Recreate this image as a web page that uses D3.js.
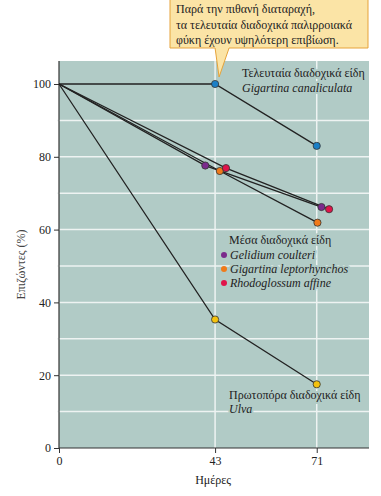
<!DOCTYPE html>
<html><head><meta charset="utf-8">
<script src="https://cdn.jsdelivr.net/npm/d3@7"></script>
<style>body{margin:0;background:#fff}svg{display:block}</style>
</head><body><svg id="c" width="381" height="496" font-family="Liberation Serif"></svg>
<script>
const xTicks = [0, 43, 71];
const yTicks = [0, 20, 40, 60, 80, 100];
const yGrid = [10, 20, 30, 40, 50, 60, 70, 80, 90];
const seriesNames = ["Gigartina canaliculata", "Gelidium coulteri", "Gigartina leptorhynchos", "Rhodoglossum affine", "Ulva"];
const seriesColors = ["#1a7fc6", "#7b2a8c", "#f07a1a", "#e0144a", "#f4c20d"];
const seriesDays = [[0, 43, 71], [0, 40.3, 72.3], [0, 44.3, 71.2], [0, 46, 74.4], [0, 43, 71]];
const seriesValues = [[100, 100, 83], [100, 77.6, 66.2], [100, 76.1, 61.9], [100, 76.9, 65.6], [100, 35.3, 17.5]];
const calloutLines = ["Παρά την πιθανή διαταραχή,", "τα τελευταία διαδοχικά παλιρροιακά", "φύκη έχουν υψηλότερη επιβίωση."];

const FONT = "Liberation Serif";
const svg = d3.select("#c");
const L = 59, R = 369, T = 61, B = 448;
const x = d3.scaleLinear().domain([0, 85.4]).range([L, R]);
const y = d3.scaleLinear().domain([0, 100]).range([B, B - 364]);
const bg = "#b1cbc6";

svg.append("rect").attr("x", L).attr("y", T).attr("width", R - L).attr("height", B - T).attr("fill", bg);
svg.append("g").selectAll("line").data(yGrid).join("line")
  .attr("x1", L - 2).attr("x2", R).attr("y1", d => y(d)).attr("y2", d => y(d))
  .attr("stroke", "#eef3f2").attr("stroke-width", 1.5);
svg.append("g").selectAll("line").data(xTicks.slice(1)).join("line")
  .attr("x1", d => x(d)).attr("x2", d => x(d)).attr("y1", T).attr("y2", B)
  .attr("stroke", "#eef3f2").attr("stroke-width", 1.5);

const ya = svg.append("g").attr("transform", `translate(${L},0)`)
  .call(d3.axisLeft(y).tickValues(yTicks).tickSize(5).tickPadding(3));
const xa = svg.append("g").attr("transform", `translate(0,${B})`)
  .call(d3.axisBottom(x).tickValues(xTicks).tickSize(5).tickPadding(3));
[ya, xa].forEach(a => {
  a.attr("font-family", FONT).attr("font-size", 12);
  a.select(".domain").attr("stroke", "#333").attr("stroke-width", 1.2);
  a.selectAll(".tick line").attr("stroke", "#333");
  a.selectAll("text").attr("fill", "#222").attr("font-family", FONT);
});
xa.select(".domain").attr("d", `M${L},0H${R}`);
ya.select(".domain").attr("d", `M0,${B}V${T}`);

function txt(xp, yp) {
  return svg.append("text").attr("x", xp).attr("y", yp).attr("font-size", 12)
    .attr("font-family", FONT).attr("fill", "#222");
}
svg.append("text").attr("transform", `translate(25,${(T + B) / 2 + 10}) rotate(-90)`)
  .attr("text-anchor", "middle").attr("font-size", 12).attr("font-family", FONT).attr("fill", "#444").text("Επιζώντες (%)");
txt(x(43) - 2, 484).attr("text-anchor", "middle").text("Ημέρες");

function label(xp, yp, parts) {
  const t = txt(xp, yp)
    .attr("stroke", bg).attr("stroke-width", 4).attr("paint-order", "stroke").attr("stroke-linejoin", "round");
  parts.forEach(p => t.append("tspan").attr("font-style", p.i ? "italic" : null).text(p.t));
  return t;
}
label(242, 77, [{t: "Τελευταία διαδοχικά είδη"}]);
label(242, 92, [{t: seriesNames[0], i: 1}]);
label(229, 244, [{t: "Μέσα διαδοχικά είδη"}]);
[1, 2, 3].forEach((k, j) => {
  label(230, 259 + j * 14, [{t: seriesNames[k], i: 1}]);
  svg.append("circle").attr("cx", 224).attr("cy", 255 + j * 14).attr("r", 3).attr("fill", seriesColors[k]);
});
label(229, 399, [{t: "Πρωτοπόρα διαδοχικά είδη"}]);
label(229, 413, [{t: seriesNames[4], i: 1}]);

const line = d3.line().x(d => x(d[0])).y(d => y(d[1]));
seriesNames.forEach((n, k) => {
  const pts = seriesDays[k].map((d, i) => [d, seriesValues[k][i]]);
  svg.append("path").attr("d", line(pts)).attr("fill", "none").attr("stroke", "#222").attr("stroke-width", 1.3);
});
seriesNames.forEach((n, k) => {
  const pts = seriesDays[k].map((d, i) => [d, seriesValues[k][i]]).slice(1);
  svg.append("g").selectAll("circle").data(pts).join("circle")
    .attr("cx", d => x(d[0])).attr("cy", d => y(d[1])).attr("r", 3.6)
    .attr("fill", seriesColors[k]).attr("stroke", "#333").attr("stroke-width", 0.8);
});

const bx0 = 170, bx1 = 368, by0 = -2, by1 = 48, tipX = x(43) + 4, tipY = y(100) - 7;
svg.append("path")
  .attr("d", `M${bx0},${by0}H${bx1}V${by1}H${tipX + 10}L${tipX},${tipY}L${tipX - 4},${by1}H${bx0}Z`)
  .attr("fill", "#fbe4a6").attr("stroke", "#e6a33a").attr("stroke-width", 1);
calloutLines.forEach((s, i) => {
  txt(176, 13 + i * 15.5).text(s);
});
</script></body></html>
